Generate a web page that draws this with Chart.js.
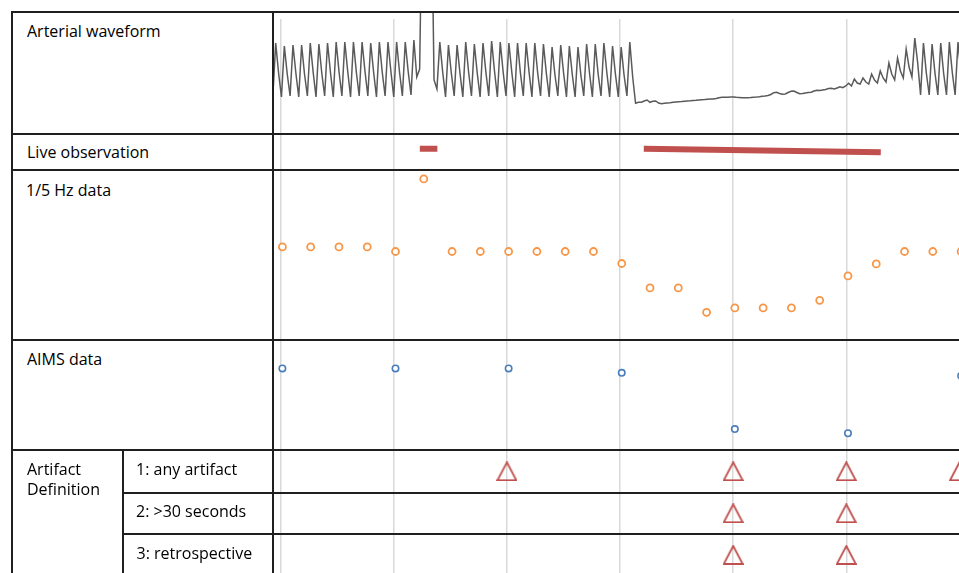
<!DOCTYPE html>
<html>
<head>
<meta charset="utf-8">
<script src="https://cdn.jsdelivr.net/npm/chart.js@4.4.1/dist/chart.umd.min.js"></script>
<style>
  body { margin: 0; background: #fff; }
  #wrap { position: relative; width: 959px; height: 573px; overflow: hidden;
          font-family: 'Open Sans', sans-serif; font-size: 16px; line-height: 20px; color: #000; }
  #chart { position: absolute; left: 273px; top: 12px; }
  .lab { position: absolute; white-space: nowrap; }
  .h, .v { position: absolute; background: #1f1f1f; }
  .h { height: 2px; }
  .v { width: 2px; }
</style>
</head>
<body>
<div id="wrap">
  <canvas id="chart" width="686" height="564"></canvas>

  <div class="h" style="left:11px; top:11px; width:948px"></div>
  <div class="h" style="left:11px; top:133px; width:948px"></div>
  <div class="h" style="left:11px; top:169px; width:948px"></div>
  <div class="h" style="left:11px; top:339px; width:948px"></div>
  <div class="h" style="left:11px; top:449px; width:948px"></div>
  <div class="h" style="left:122px; top:492px; width:837px"></div>
  <div class="h" style="left:122px; top:533px; width:837px"></div>
  <div class="v" style="left:11px; top:11px; height:562px"></div>
  <div class="v" style="left:272px; top:11px; height:562px"></div>
  <div class="v" style="left:122px; top:449px; height:124px"></div>

  <div class="lab" style="left:27px; top:21px">Arterial waveform</div>
  <div class="lab" style="left:27px; top:142px">Live observation</div>
  <div class="lab" style="left:26px; top:179.5px">1/5 Hz data</div>
  <div class="lab" style="left:27px; top:349px">AIMS data</div>
  <div class="lab" style="left:27px; top:459px">Artifact<br>Definition</div>
  <div class="lab" style="left:136px; top:459px">1: any artifact</div>
  <div class="lab" style="left:136px; top:500.5px">2: &gt;30 seconds</div>
  <div class="lab" style="left:136.5px; top:543px">3: retrospective</div>
</div>

<script>
// time axis (seconds), grid line every 20 s
const timeMin = -1.36, timeMax = 119.93;

// arterial line, mmHg, one sample every waveStep seconds
const waveStart = -1.39, waveStep = 0.509;
const wavePulsesA = [77,130,100, 76,127,99, 77,128,100, 76,128,99, 77,130,101, 76,129,100,
  77,130,101, 76,131,101, 77,131,102, 76,131,101, 77,131,102, 77,130,101, 76,131,101,
  77,131,102, 76,131,101, 77,131,102, 78,133,96];
const waveFlush = [104, 300, 300, 300, 300, 93];
const wavePulsesB = [84,131,101, 76,128,100, 77,128,100, 76,131,101, 77,129,100, 76,130,101,
  77,132,102, 76,131,101, 77,130,101, 76,130,100, 77,130,101, 76,130,100, 77,129,100,
  76,126,98, 77,128,100, 76,127,99, 76,126,98, 77,129,100, 76,129,99, 77,130,101,
  76,127,99, 76,126,98, 77,131,96];
const waveDamped = [69.7, 70.7, 70.7, 72, 73, 70.7, 71.7, 72, 70, 69.3,
  69.7, 70, 70.3, 70.7, 71, 71.3, 71.5, 71.8, 72, 72.2,
  72.5, 72.7, 73, 73.2, 73.4, 73.7, 74, 74, 74.5, 75.2,
  75.7, 75.7, 75.8, 76, 76, 75.7, 75.5, 75.3, 75.3, 75.3,
  75.5, 75.8, 76, 76.3, 76.7, 77, 77.5, 78.5, 80.3, 80.7,
  79.5, 78.7, 79, 80.5, 81.7, 82, 80.5, 79.3, 79.5, 80,
  80.5, 80.7, 82, 82.7, 82.5, 83, 83.5, 84.5, 84.7, 84,
  85, 86.3, 85.3, 87, 89.7];
const wavePulsesC = [87,94,90, 89,95,91, 89,99,93, 90,102,95, 91,110,99, 93,115,102,
  95,124,106, 96,135,110, 78,130,100, 78,129,100, 78,130,100, 78,131,101, 78,131,101];

// live observation periods
const liveFrom = [24.6, 64.2];
const liveTo = [27.7, 106.1];
const liveLevelFrom = [5.9, 5.9];
const liveLevelTo = [5.9, 4.9];

// 1/5 Hz samples
const hzTime = [0.3, 5.3, 10.3, 15.3, 20.3, 25.3, 30.3, 35.3, 40.3, 45.3, 50.3, 55.3, 60.3,
  65.3, 70.3, 75.3, 80.3, 85.3, 90.3, 95.3, 100.3, 105.3, 110.3, 115.3, 120.3];
const hzMap = [94.7, 94.7, 94.7, 94.7, 92.4, 128.7, 92.4, 92.4, 92.4, 92.4, 92.4, 92.4, 86.4,
  74.2, 74.2, 62, 64.2, 64.2, 64.2, 68, 80.2, 86.2, 92.4, 92.4, 92.4];

// AIMS samples
const aimsTime = [0.3, 20.3, 40.3, 60.3, 80.3, 100.3, 120.3];
const aimsMap = [93.9, 93.9, 93.9, 91.7, 63.5, 61.4, 90.2];

// artifact flags per definition
const anyArtifact = [40, 80, 100, 120];
const over30s = [80, 100];
const retrospective = [80, 100];

const red = '#c0504d';

const waveform = wavePulsesA.concat(waveFlush, wavePulsesB, waveDamped, wavePulsesC);

const tri = document.createElement('canvas');
tri.width = 21;
tri.height = 20;
const tc = tri.getContext('2d');
tc.strokeStyle = red;
tc.lineWidth = 1.8;
tc.beginPath();
tc.moveTo(10.5, 1);
tc.lineTo(20, 19);
tc.lineTo(1, 19);
tc.closePath();
tc.stroke();

function flags(times, axis) {
  return {
    data: times.map(t => ({x: t, y: 1})),
    yAxisID: axis,
    pointStyle: tri,
    pointRadius: 6,
    clip: false
  };
}

function circles(times, values, axis, color, r, bw) {
  return {
    data: times.map((t, i) => ({x: t, y: values[i]})),
    yAxisID: axis,
    pointStyle: 'circle',
    pointRadius: r,
    borderWidth: bw,
    borderColor: color,
    backgroundColor: '#fff',
    clip: false
  };
}

let datasets = [];
datasets.push({
  data: waveform.map((v, i) => ({x: waveStart + i * waveStep, y: v})),
  yAxisID: 'yWave',
  showLine: true,
  borderColor: '#5a5a5a',
  borderWidth: 1.5,
  pointRadius: 0,
  clip: false
});
for (let i = 0; i < liveFrom.length; i++) {
  datasets.push({
    data: [{x: liveFrom[i], y: liveLevelFrom[i]}, {x: liveTo[i], y: liveLevelTo[i]}],
    yAxisID: 'yLive',
    showLine: true,
    borderColor: red,
    borderWidth: 6,
    borderCapStyle: 'butt',
    pointRadius: 0
  });
}
datasets.push(circles(hzTime, hzMap, 'yHz', '#f79646', 3.5, 1.8));
datasets.push(circles(aimsTime, aimsMap, 'yAims', '#4a7ebb', 3.2, 1.6));
datasets.push(flags(anyArtifact, 'yArt1'));
datasets.push(flags(over30s, 'yArt2'));
datasets.push(flags(retrospective, 'yArt3'));

function row(min, max, size, order) {
  return {type: 'linear', display: false, position: 'left', stack: 'rows',
          stackWeight: size, weight: order, min: min, max: max};
}

new Chart(document.getElementById('chart'), {
  type: 'scatter',
  data: {datasets: datasets},
  options: {
    responsive: false,
    animation: false,
    events: [],
    layout: {autoPadding: false, padding: {top: 7, left: 0, right: 0, bottom: 0}},
    plugins: {legend: {display: false}, tooltip: {enabled: false}},
    scales: {
      x: {
        type: 'linear', min: timeMin, max: timeMax,
        ticks: {display: false, stepSize: 20, includeBounds: false},
        grid: {color: '#d9d9d9', lineWidth: 1.5, drawTicks: false},
        border: {display: false}
      },
      yWave: row(39.3, 154, 114.7, 7),
      yLive: row(0, 10, 36.6, 6),
      yHz: row(48, 133, 170, 5),
      yAims: row(53, 108, 109.7, 4),
      yArt1: row(0, 2, 42.7, 3),
      yArt2: row(0, 2, 41.3, 2),
      yArt3: row(0, 2, 42, 1)
    }
  }
});
</script>
</body>
</html>
